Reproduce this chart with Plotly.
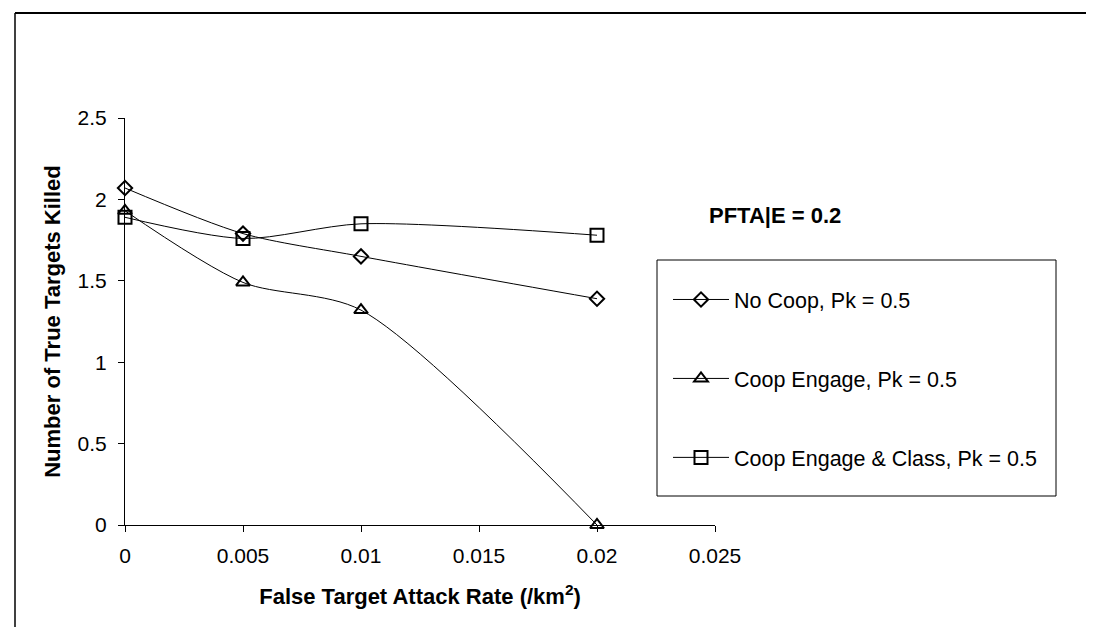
import plotly.graph_objects as go

x_vals = [0, 0.005, 0.01, 0.02]
no_coop = [2.07, 1.79, 1.65, 1.39]
coop_engage = [1.93, 1.49, 1.32, 0.0]
coop_engage_class = [1.89, 1.76, 1.85, 1.78]

names = ["No Coop, Pk = 0.5", "Coop Engage, Pk = 0.5", "Coop Engage & Class, Pk = 0.5"]
symbols = ["diamond-open", "triangle-up-open", "square-open"]
sizes = [11, 12, 13]
series = [no_coop, coop_engage, coop_engage_class]

FONT = "Liberation Sans, Arial, sans-serif"

fig = go.Figure()
for i, (name, ys) in enumerate(zip(names, series)):
    fig.add_trace(go.Scatter(
        x=x_vals, y=ys, name=name, mode="lines+markers",
        line=dict(color="black", width=1, shape="spline", smoothing=0.8),
        marker=dict(symbol=symbols[i], size=sizes[i], color="black",
                    line=dict(color="black", width=2)),
        cliponaxis=False, legendgroup=f"g{i}",
    ))

W, H = 1094, 627
L, R, T, B = 117, 707, 110, 517
pw, ph = R - L, B - T

def px(xp):
    return (xp - L) / pw

def py(yp):
    return (B - yp) / ph

fig.update_layout(
    width=W, height=H,
    margin=dict(l=L, r=W - R, t=T, b=H - B),
    paper_bgcolor="white", plot_bgcolor="white",
    font=dict(family=FONT, size=21, color="black"),
    showlegend=True,
    legend=dict(
        x=px(660), y=py(271), xanchor="left", yanchor="top",
        borderwidth=0, bgcolor="rgba(0,0,0,0)",
        font=dict(family=FONT, size=21.5, color="black"),
        traceorder="grouped", tracegroupgap=48,
        itemwidth=56,
    ),
    xaxis=dict(
        range=[0, 0.025], tickvals=[0, 0.005, 0.01, 0.015, 0.02, 0.025],
        ticktext=["0", "0.005", "0.01", "0.015", "0.02", "0.025"],
        showgrid=False, zeroline=False, showline=True, linecolor="black", linewidth=1,
        ticks="outside", ticklen=6, tickcolor="black", ticklabelstandoff=6,
        tickfont=dict(family=FONT, size=21),
        title=dict(text="<b>False Target Attack Rate (/km<sup>2</sup>)</b>",
                   font=dict(family=FONT, size=22), standoff=22),
    ),
    yaxis=dict(
        range=[0, 2.5], tickvals=[0, 0.5, 1, 1.5, 2, 2.5],
        ticktext=["0", "0.5", "1", "1.5", "2", "2.5"],
        showgrid=False, zeroline=False, showline=True, linecolor="black", linewidth=1,
        ticks="outside", ticklen=6, tickcolor="black", ticklabelstandoff=7,
        tickfont=dict(family=FONT, size=21),
        title=dict(text="<b>Number of True Targets Killed</b>",
                   font=dict(family=FONT, size=22), standoff=10),
    ),
    annotations=[dict(
        text="<b>PFTA|E = 0.2</b>", xref="paper", yref="paper",
        x=px(699), y=py(207), xanchor="left", yanchor="middle",
        showarrow=False, font=dict(family=FONT, size=22, color="black"),
    )],
    shapes=[
        dict(type="line", xref="paper", yref="paper",
             x0=px(7), x1=px(W + 5), y0=py(5), y1=py(5),
             line=dict(color="black", width=2)),
        dict(type="line", xref="paper", yref="paper",
             x0=px(7), x1=px(7), y0=py(5), y1=py(H + 5),
             line=dict(color="black", width=1.5)),
        dict(type="rect", xref="paper", yref="paper",
             x0=px(649), x1=px(1048), y0=py(252), y1=py(488),
             line=dict(color="black", width=1), fillcolor="rgba(0,0,0,0)",
             layer="below"),
    ],
)

fig.write_html("out.html")
